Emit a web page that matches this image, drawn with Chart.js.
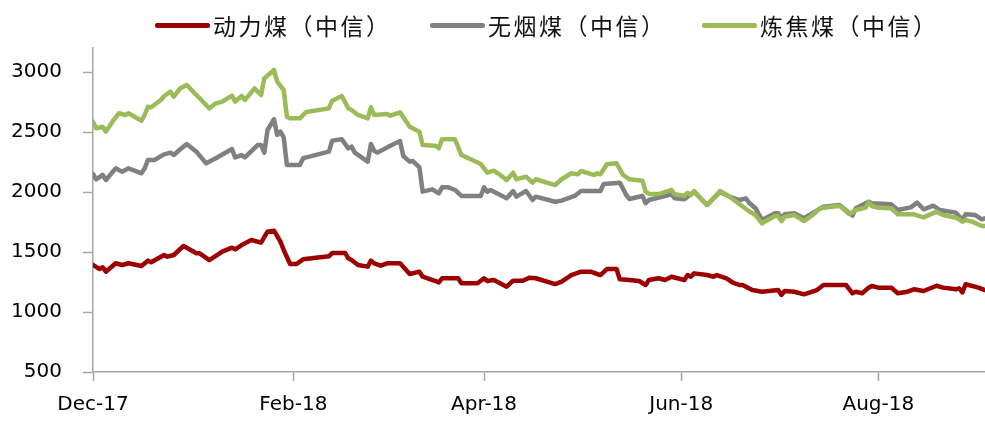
<!DOCTYPE html>
<html>
<head>
<meta charset="utf-8">
<script src="https://cdn.jsdelivr.net/npm/chart.js@4/dist/chart.umd.min.js"></script>
<style>
  body { margin: 0; background: #fff; }
  #wrap { position: relative; width: 985px; height: 421px; }
  #legend { position: absolute; top: 0; left: 0; width: 985px; height: 46px; }
  .item { position: absolute; top: 8px; height: 34px; display: flex; align-items: center; }
  .item .line { display: inline-block; width: 55px; height: 5px; border-radius: 2px; margin-right: 3px; }
  .item .txt { font-family: "Noto Sans CJK SC", sans-serif; font-size: 23px; letter-spacing: 2.5px; color: #111; }
</style>
</head>
<body>
<div id="wrap">
  <canvas id="lineChart" width="985" height="421"></canvas>
  <div id="legend"></div>
</div>
<script>
// 坐标轴刻度
var tickDays = [0, 62, 121, 182, 243];
var tickLabels = ['Dec-17', 'Feb-18', 'Apr-18', 'Jun-18', 'Aug-18'];
var yTicks = [500, 1000, 1500, 2000, 2500, 3000];

var seriesNames = ['动力煤（中信）', '无烟煤（中信）', '炼焦煤（中信）'];
var seriesColors = ['#9c0000', '#808080', '#9bbb59'];

// 动力煤, days from 2017-12-01
var powerDays = [0, 2, 3, 4, 7, 9, 11, 15, 17, 18, 22, 23, 25, 28, 32, 33, 36, 38, 40, 43, 44, 46, 49, 52, 54, 56, 58, 59, 61, 63, 65,
  73, 74, 78, 79, 80, 82, 85, 86, 87, 89, 91, 95, 98, 101, 102, 106, 107, 108, 113, 114, 119, 121, 122, 124, 128, 130, 133, 135, 137,
  143, 145, 148, 151, 154, 157, 159, 162, 163, 166, 169, 171, 172, 175, 177, 179, 183, 184, 185, 186, 190, 192, 193, 196, 198, 200,
  201, 204, 207, 212, 213, 214, 217, 220, 224, 226, 233, 235, 236, 238, 240, 241, 243, 247, 249, 252, 254, 257, 261, 263, 267, 268,
  269, 270, 274, 276];
var powerValues = [1392, 1358, 1372, 1336, 1406, 1392, 1406, 1383, 1428, 1414, 1475, 1461, 1475, 1550, 1489, 1489, 1433, 1467, 1503, 1536, 1522, 1558, 1600, 1578, 1669, 1678, 1586, 1517, 1400, 1400, 1439,
  1464, 1492, 1492, 1447, 1433, 1392, 1378, 1428, 1406, 1386, 1406, 1406, 1317, 1336, 1294, 1258, 1247, 1281, 1281, 1239, 1239, 1281, 1258, 1267, 1211, 1261, 1261, 1286, 1281,
  1233, 1253, 1308, 1336, 1336, 1308, 1358, 1358, 1272, 1267, 1258, 1225, 1267, 1281, 1267, 1294, 1267, 1308, 1294, 1322, 1308, 1294, 1308, 1281, 1244, 1225,
  1225, 1183, 1169, 1183, 1142, 1175, 1169, 1147, 1183, 1225, 1225, 1156, 1169, 1156, 1203, 1217, 1203, 1203, 1156, 1169, 1189, 1175, 1219, 1203, 1189, 1197,
  1164, 1231, 1203, 1183];

// 无烟煤
var anthDays = [0, 1, 3, 4, 7, 9, 11, 15, 16, 17, 19, 22, 24, 25, 27, 29, 32, 35, 38, 43, 44, 46, 47, 51, 52, 53, 54, 56, 57, 58, 59, 60, 64, 65, 66,
  73, 74, 77, 79, 80, 81, 85, 86, 87, 88, 92, 95, 96, 98, 99, 101, 102, 105, 107, 108, 110, 112, 114, 120, 121, 122, 123, 126, 128, 130, 131,
  134, 136, 137, 143, 145, 149, 151, 157, 158, 163, 165, 166, 170, 171, 172, 179, 180, 183, 186, 190, 194, 197, 200, 202, 203, 205, 207,
  211, 212, 213, 214, 217, 220, 226, 231, 235, 236, 240, 241, 247, 249, 253, 255, 257, 260, 262, 267, 269, 270, 273, 275, 276];
var anthValues = [2150, 2106, 2142, 2100, 2197, 2169, 2197, 2156, 2197, 2267, 2267, 2314, 2328, 2308, 2356, 2400, 2336, 2239, 2281, 2358, 2289, 2308, 2289, 2392, 2392, 2328, 2517, 2606, 2475, 2503, 2456, 2225, 2225, 2281, 2289,
  2336, 2428, 2439, 2364, 2378, 2328, 2253, 2400, 2344, 2328, 2386, 2425, 2300, 2253, 2258, 2206, 2003, 2022, 1989, 2039, 2039, 2017, 1967, 1967, 2039, 2003, 2017, 1975, 1947, 2008, 1961,
  2008, 1933, 1961, 1919, 1928, 1967, 2008, 2008, 2067, 2078, 1975, 1942, 1967, 1906, 1933, 1981, 1947, 1939, 2003, 1892, 2000, 1961, 1933, 1947, 1911, 1864, 1767,
  1822, 1822, 1781, 1814, 1822, 1781, 1878, 1892, 1803, 1864, 1919, 1906, 1897, 1850, 1872, 1911, 1856, 1886, 1850, 1828, 1767, 1814, 1808, 1772, 1781];

// 炼焦煤
var cokingDays = [0, 1, 3, 4, 6, 8, 10, 11, 15, 16, 17, 18, 21, 22, 24, 25, 27, 29, 32, 33, 36, 38, 40, 43, 44, 46, 47, 50, 52, 53, 56, 57, 59, 60, 61, 64, 66,
  73, 74, 77, 79, 80, 82, 85, 86, 87, 91, 92, 95, 98, 101, 102, 106, 107, 108, 112, 114, 120, 122, 124, 126, 128, 130, 131, 134, 136, 137,
  143, 145, 148, 150, 151, 155, 156, 157, 159, 162, 164, 166, 170, 171, 172, 175, 179, 180, 183, 184, 185, 186, 190, 194, 197, 200, 203,
  205, 207, 211, 212, 213, 214, 217, 220, 222, 225, 231, 234, 236, 239, 240, 241, 243, 247, 249, 254, 257, 261, 263, 267, 269, 270, 272, 275, 276];
var cokingValues = [2586, 2531, 2544, 2503, 2586, 2656, 2642, 2656, 2594, 2642, 2711, 2706, 2767, 2800, 2836, 2794, 2864, 2892, 2808, 2781, 2697, 2739, 2753, 2803, 2753, 2800, 2767, 2864, 2808, 2947, 3017, 2919, 2850, 2628, 2614, 2614, 2667,
  2697, 2761, 2800, 2697, 2683, 2642, 2614, 2706, 2642, 2650, 2636, 2664, 2544, 2503, 2392, 2386, 2364, 2439, 2439, 2308, 2233, 2161, 2178, 2142, 2100, 2161, 2106, 2128, 2078, 2106,
  2058, 2106, 2156, 2147, 2175, 2142, 2156, 2147, 2231, 2239, 2142, 2106, 2094, 2003, 1983, 1983, 2017, 1981, 1969, 1994, 1975, 2008, 1892, 2008, 1961, 1900, 1840,
  1808, 1739, 1800, 1800, 1758, 1794, 1808, 1758, 1794, 1864, 1886, 1817, 1850, 1869, 1914, 1883, 1869, 1864, 1814, 1814, 1789, 1836, 1808, 1786, 1753, 1767, 1753, 1717, 1717];

function toPoints(days, values) {
    return days.map(function(d, i) { return {x: d, y: values[i]}; });
}

// html legend
var legendLeft = [155, 430, 702];
var legend = document.getElementById('legend');
seriesNames.forEach(function(name, i) {
    var item = document.createElement('div');
    item.className = 'item';
    item.style.left = legendLeft[i] + 'px';
    item.innerHTML = '<span class="line" style="background:' + seriesColors[i] + '"></span><span class="txt">' + name + '</span>';
    legend.appendChild(item);
});

var axisColor = '#a6a6a6';
var tickFont = {family: 'DejaVu Sans', size: 20};

function makeDataset(i, days, values) {
    return {
        label: seriesNames[i],
        data: toPoints(days, values),
        borderColor: seriesColors[i],
        backgroundColor: seriesColors[i],
        borderWidth: 4.5,
        pointRadius: 0,
        tension: 0,
        borderJoinStyle: 'round',
        borderCapStyle: 'round',
        order: 3 - i
    };
}

var ctx = document.getElementById('lineChart').getContext('2d');
var chart = new Chart(ctx, {
    type: 'line',
    data: {
        datasets: [
            makeDataset(0, powerDays, powerValues),
            makeDataset(1, anthDays, anthValues),
            makeDataset(2, cokingDays, cokingValues)
        ]
    },
    options: {
        responsive: false,
        animation: false,
        devicePixelRatio: 1,
        layout: { padding: { top: 48, left: 0, right: 0, bottom: 0 } },
        plugins: {
            legend: { display: false },
            tooltip: { enabled: false }
        },
        scales: {
            x: {
                type: 'linear',
                min: 0,
                max: 276,
                afterBuildTicks: function(scale) {
                    scale.ticks = tickDays.map(function(d) { return {value: d}; });
                },
                afterFit: function(scale) { scale.height = 49; },
                ticks: {
                    autoSkip: false,
                    maxRotation: 0,
                    padding: 12,
                    color: '#000',
                    font: tickFont,
                    callback: function(value) {
                        var k = tickDays.indexOf(value);
                        return k >= 0 ? tickLabels[k] : '';
                    }
                },
                grid: { drawOnChartArea: false, drawTicks: true, tickLength: 9, tickColor: axisColor, tickWidth: 1.5 },
                border: { display: true, color: axisColor, width: 1.5 }
            },
            y: {
                min: 500,
                max: 3200,
                afterBuildTicks: function(scale) {
                    scale.ticks = yTicks.map(function(v) { return {value: v}; });
                },
                afterFit: function(scale) { scale.width = 93; },
                ticks: {
                    padding: 21,
                    color: '#000',
                    font: tickFont,
                    callback: function(value) { return String(value); }
                },
                grid: { drawOnChartArea: false, drawTicks: true, tickLength: 10, tickColor: axisColor, tickWidth: 1.5 },
                border: { display: true, color: axisColor, width: 1.5 }
            }
        }
    }
});
</script>
</body>
</html>
